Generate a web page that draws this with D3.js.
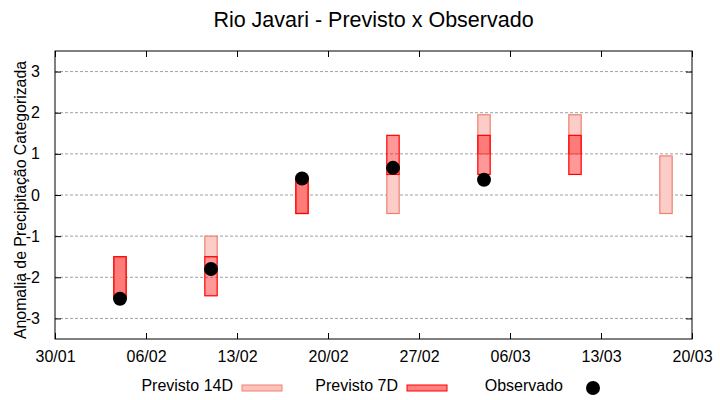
<!DOCTYPE html>
<html>
<head>
<meta charset="utf-8">
<script src="https://cdn.jsdelivr.net/npm/d3@7"></script>
<style>
  body { margin: 0; background: #fff; }
  text { font-family: "Liberation Sans", Arial, sans-serif; }
</style>
</head>
<body>
<div id="chart"></div>
<script>
// weekly forecast dates
var weeks = ["2025-02-04", "2025-02-11", "2025-02-18", "2025-02-25", "2025-03-04", "2025-03-11", "2025-03-18"];
// forecast ranges (null = no forecast)
var prev14Lo = [-2.5, -1.5, -0.45, -0.45, 1.0, 1.0, -0.45];
var prev14Hi = [-1.5, -1.0, 0.4, 0.5, 1.95, 1.95, 0.95];
var prev7Lo = [-2.5, -2.45, -0.45, 0.5, 0.5, 0.5, null];
var prev7Hi = [-1.5, -1.5, 0.4, 1.45, 1.45, 1.45, null];
var observed = [-2.52, -1.8, 0.4, 0.66, 0.37, null, null];

var xTicks = ["2025-01-30", "2025-02-06", "2025-02-13", "2025-02-20", "2025-02-27", "2025-03-06", "2025-03-13", "2025-03-20"];
var yTicks = [-3, -2, -1, 0, 1, 2, 3];

var margin = { top: 51, right: 28, bottom: 61, left: 55 };
var width = 720 - margin.left - margin.right;
var height = 400 - margin.top - margin.bottom;

var parse = d3.utcParse("%Y-%m-%d");
var fmt = d3.utcFormat("%d/%m");

var svg = d3.select("#chart").append("svg")
  .attr("width", 720)
  .attr("height", 400);

var g = svg.append("g")
  .attr("transform", `translate(${margin.left},${margin.top})`);

var x = d3.scaleUtc()
  .domain([parse(xTicks[0]), parse(xTicks[xTicks.length - 1])])
  .range([0, width]);

var y = d3.scaleLinear()
  .domain([-3.5, 3.5])
  .range([height, 0]);

// grid
g.append("g").selectAll("line")
  .data(yTicks)
  .enter().append("line")
  .attr("x1", 0).attr("x2", width)
  .attr("y1", d => y(d)).attr("y2", d => y(d))
  .attr("stroke", "#a0a0a0")
  .attr("stroke-dasharray", "3,2");

var data = weeks.map((w, i) => ({
  date: parse(w),
  lo14: prev14Lo[i], hi14: prev14Hi[i],
  lo7: prev7Lo[i], hi7: prev7Hi[i],
  obs: observed[i]
}));

var halfDay = 0.475 * 86400000;
function bx(d) { return x(new Date(d.date.getTime() - halfDay)); }
function bw(d) { return x(new Date(d.date.getTime() + halfDay)) - bx(d); }

// 14D boxes
g.selectAll(".b14")
  .data(data.filter(d => d.lo14 != null))
  .enter().append("rect")
  .attr("x", bx)
  .attr("width", bw)
  .attr("y", d => y(d.hi14))
  .attr("height", d => y(d.lo14) - y(d.hi14))
  .attr("fill", "rgb(252,205,200)")
  .attr("stroke", "#f08070")
  .attr("stroke-width", 1.2);

// 7D boxes
g.selectAll(".b7")
  .data(data.filter(d => d.lo7 != null))
  .enter().append("rect")
  .attr("x", bx)
  .attr("width", bw)
  .attr("y", d => y(d.hi7))
  .attr("height", d => y(d.lo7) - y(d.hi7))
  .attr("fill", "rgba(255,0,0,0.4)")
  .attr("stroke", "#ff0000")
  .attr("stroke-width", 1.2);

// observed
g.selectAll(".obs")
  .data(data.filter(d => d.obs != null))
  .enter().append("circle")
  .attr("cx", d => x(d.date))
  .attr("cy", d => y(d.obs))
  .attr("r", 7)
  .attr("fill", "#000");

// frame
g.append("rect")
  .attr("width", width).attr("height", height)
  .attr("fill", "none").attr("stroke", "#000");

// axes, ticks inward and mirrored
var xAxis = d3.axisBottom(x).tickValues(xTicks.map(parse)).tickFormat(fmt).tickSizeInner(-6).tickSizeOuter(0).tickPadding(12);
var yAxis = d3.axisLeft(y).tickValues(yTicks).tickFormat(d => String(d)).tickSizeInner(-6).tickSizeOuter(0).tickPadding(15);

var gx = g.append("g").attr("transform", `translate(0,${height})`).call(xAxis);
var gy = g.append("g").call(yAxis);
var gxt = g.append("g").call(d3.axisTop(x).tickValues(xTicks.map(parse)).tickFormat("").tickSizeInner(-6).tickSizeOuter(0));
var gyr = g.append("g").attr("transform", `translate(${width},0)`).call(d3.axisRight(y).tickValues(yTicks).tickFormat("").tickSizeInner(-6).tickSizeOuter(0));

[gx, gy, gxt, gyr].forEach(a => {
  a.select(".domain").remove();
  a.selectAll("line").attr("stroke", "#000");
  a.selectAll("text").attr("font-size", 16).attr("fill", "#000")
    .style("font-family", '"Liberation Sans", Arial, sans-serif');
});

// title
svg.append("text")
  .attr("x", margin.left + width / 2)
  .attr("y", 27)
  .attr("text-anchor", "middle")
  .attr("font-size", 21.5)
  .text("Rio Javari - Previsto x Observado");

// y label
svg.append("text")
  .attr("transform", `translate(26,200) rotate(-90)`)
  .attr("text-anchor", "middle")
  .attr("font-size", 16)
  .attr("textLength", 278)
  .attr("lengthAdjust", "spacingAndGlyphs")
  .text("Anomalia de Precipitação Categorizada");

// legend
var leg = svg.append("g");
leg.append("text").attr("x", 233).attr("y", 391).attr("text-anchor", "end").attr("font-size", 16).text("Previsto 14D");
leg.append("rect").attr("x", 242).attr("y", 385).attr("width", 40).attr("height", 6)
  .attr("fill", "rgb(252,195,188)").attr("stroke", "#f08070");
leg.append("text").attr("x", 398).attr("y", 391).attr("text-anchor", "end").attr("font-size", 16).text("Previsto 7D");
leg.append("rect").attr("x", 407).attr("y", 385).attr("width", 40).attr("height", 6)
  .attr("fill", "rgb(255,128,128)").attr("stroke", "#ff0000");
leg.append("text").attr("x", 563).attr("y", 391).attr("text-anchor", "end").attr("font-size", 16).text("Observado");
leg.append("circle").attr("cx", 593).attr("cy", 388).attr("r", 7).attr("fill", "#000");
</script>
</body>
</html>
